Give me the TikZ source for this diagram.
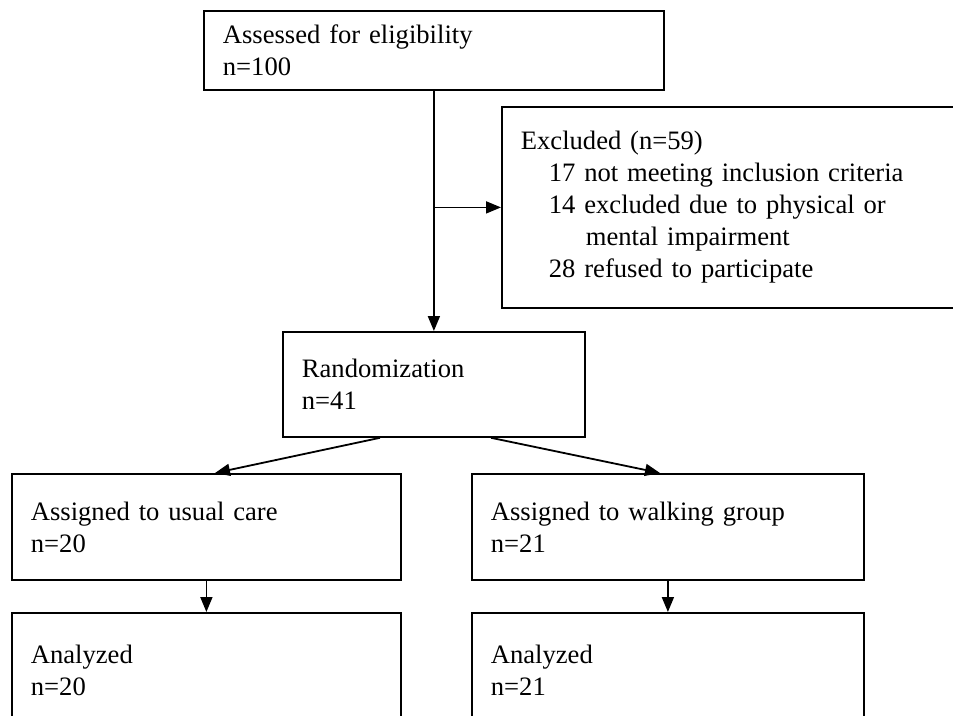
\documentclass[tikz,border=0pt]{standalone}
\usepackage{fontspec}
\setmainfont{Liberation Serif}
\usetikzlibrary{arrows.meta,calc}
\begin{document}
\begin{tikzpicture}[x=1pt,y=-1pt,
  box/.style={draw=black, line width=1.8pt, anchor=north west, align=left,
    inner xsep=19pt, inner ysep=0pt, font=\fontsize{26.6}{32}\selectfont, text=black},
  arr/.style={draw=black, line width=1.8pt, -{Triangle[length=15pt,width=12pt]}}]
\useasboundingbox (0,0) rectangle (953,715);
\clip (0,0) rectangle (953,715);
\fill[white] (0,0) rectangle (953,715);
\node[box, text width=422pt, minimum width=460pt, minimum height=79pt] (assess) at (203,10)
  {Assessed for eligibility\\n=100};
\node[box, text width=432pt, minimum width=470pt, minimum height=201pt] (excl) at (501,106)
  {Excluded (n=59)\\
   \hspace*{28pt}17 not meeting inclusion criteria\\
   \hspace*{28pt}14 excluded due to physical or\\
   \hspace*{65pt}mental impairment\\
   \hspace*{28pt}28 refused to participate};
\node[box, text width=264pt, minimum width=302pt, minimum height=105pt] (rand) at (282,331)
  {Randomization\\n=41};
\node[box, text width=351pt, minimum width=389pt, minimum height=106pt] (usual) at (11,473)
  {Assigned to usual care\\n=20};
\node[box, text width=354pt, minimum width=392pt, minimum height=106pt] (walk) at (471,473)
  {Assigned to walking group\\n=21};
\node[box, text width=351pt, minimum width=389pt, minimum height=114pt] (anone) at (11,612)
  {Analyzed\\n=20};
\node[box, text width=354pt, minimum width=392pt, minimum height=114pt] (antwo) at (471,612)
  {Analyzed\\n=21};
\draw[arr] (assess.south) -- (rand.north);
\draw[arr] (assess.south |- excl.west) -- (excl.west);
\draw[arr] ($(rand.south west)+(98,0)$) -- ($(usual.north west)+(204,0)$);
\draw[arr] ($(rand.south west)+(209,0)$) -- ($(walk.north west)+(189,0)$);
\draw[arr] (usual.south) -- (anone.north);
\draw[arr] (walk.south) -- (antwo.north);
\end{tikzpicture}
\end{document}
